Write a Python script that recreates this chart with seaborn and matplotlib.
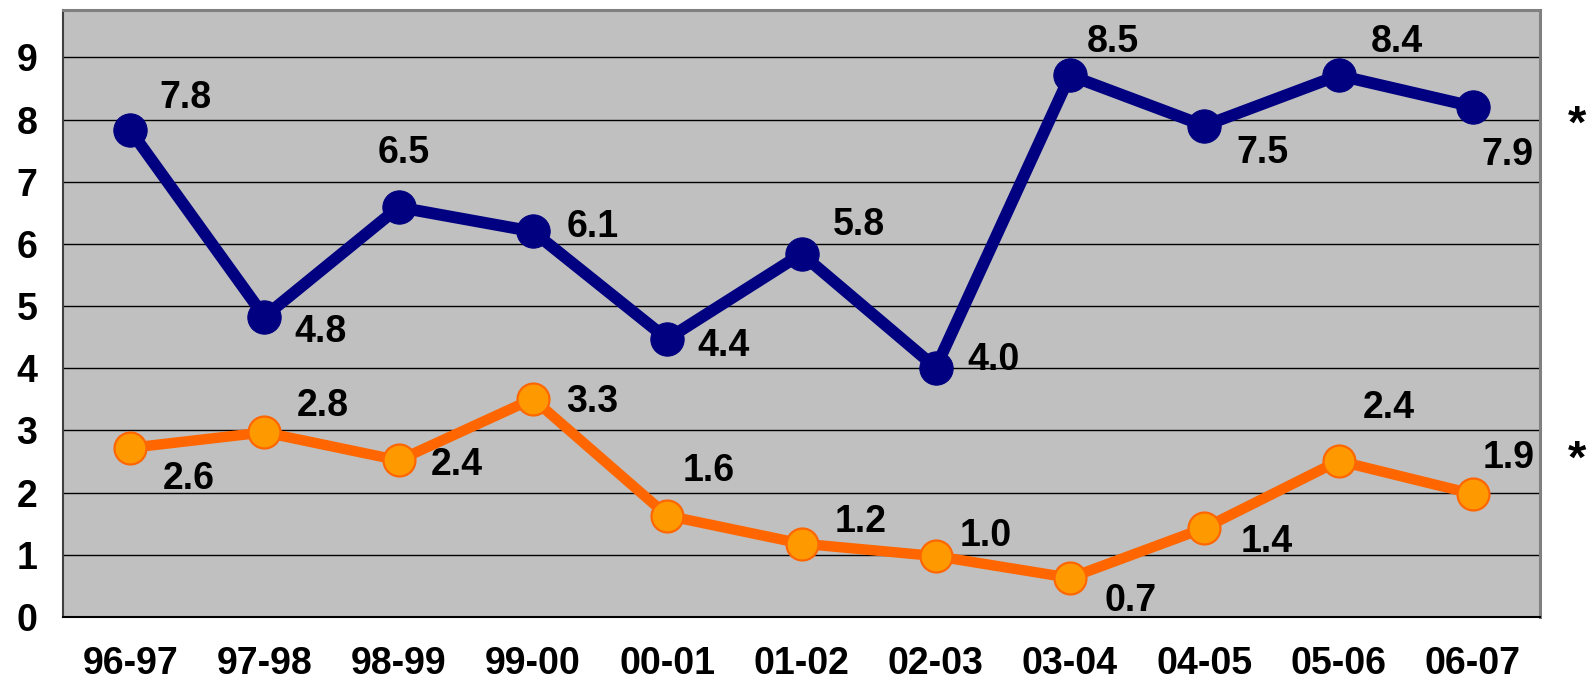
import matplotlib
matplotlib.use("Agg")
import matplotlib.pyplot as plt
import numpy as np
import pandas as pd
import seaborn as sns

# Data
years = ['96-97', '97-98', '98-99', '99-00', '00-01', '01-02',
         '02-03', '03-04', '04-05', '05-06', '06-07']
blue_values = [7.83, 4.83, 6.59, 6.2, 4.47, 5.84, 4.01, 8.71, 7.9, 8.71, 8.21]
blue_labels = ['7.8', '4.8', '6.5', '6.1', '4.4', '5.8', '4.0', '8.5', '7.5', '8.4', '7.9']
orange_values = [2.72, 2.97, 2.52, 3.51, 1.63, 1.18, 0.98, 0.63, 1.43, 2.51, 1.98]
orange_labels = ['2.6', '2.8', '2.4', '3.3', '1.6', '1.2', '1.0', '0.7', '1.4', '2.4', '1.9']
y_ticks = [0, 1, 2, 3, 4, 5, 6, 7, 8, 9]

# label offsets in pixels (dx right, dy down) from marker to text centre
blue_offsets = [(55, -36), (56, 12), (5, -58), (60, -8), (56, 3), (57, -32),
                (58, -11), (43, -37), (58, 24), (58, -37), (35, 45)]
orange_offsets = [(59, 28), (58, -30), (58, 1), (59, 0), (41, -48), (59, -25),
                  (50, -24), (61, 20), (62, 10), (50, -56), (36, -39)]

sns.set_style("white")
plt.rcParams['font.family'] = ['Liberation Sans', 'DejaVu Sans']
plt.rcParams['font.weight'] = 'bold'
plt.rcParams['text.color'] = 'black'
plt.rcParams['xtick.color'] = 'black'
plt.rcParams['ytick.color'] = 'black'
plt.rcParams['xtick.labelcolor'] = 'black'
plt.rcParams['ytick.labelcolor'] = 'black'

fig = plt.figure(figsize=(15.93, 6.9), dpi=100)
ax = fig.add_axes([63 / 1593, (690 - 617) / 690, (1540 - 63) / 1593, (617 - 9.5) / 690])
ax.set_facecolor('#C0C0C0')

df = pd.DataFrame({'year': years, 'blue': blue_values, 'orange': orange_values})

sns.lineplot(data=df, x='year', y='blue', ax=ax, color='#000080', lw=8.5,
             marker='o', markersize=24, markerfacecolor='#000080',
             markeredgecolor='#000080', sort=False, zorder=3)
sns.lineplot(data=df, x='year', y='orange', ax=ax, color='#FF6600', lw=7.5,
             marker='o', markersize=23, markerfacecolor='#FF9900',
             markeredgecolor='#FF6600', markeredgewidth=1.6, sort=False, zorder=3)

x = np.arange(len(years))
for vals, labs, offs in [(blue_values, blue_labels, blue_offsets),
                         (orange_values, orange_labels, orange_offsets)]:
    for i, (v, lab, (dx, dy)) in enumerate(zip(vals, labs, offs)):
        ax.annotate(lab, (x[i], v), xytext=(dx, -(dy + 13.5)),
                    textcoords='offset pixels', ha='center', va='baseline',
                    fontsize=27, fontweight='bold', color='black', zorder=4)

ax.set_xlim(-0.5, len(years) - 0.5)
ax.set_ylim(0, 9.77)
ax.set_yticks(y_ticks)
ax.set_yticklabels([str(t) for t in y_ticks])
ax.yaxis.grid(True, color='black', lw=1.0)
ax.set_axisbelow(True)

# boundaries get tick marks, centres get the labels
ax.set_xticks(np.arange(len(years) + 1) - 0.5)
ax.set_xticklabels([])
ax.set_xticks(x, minor=True)
ax.set_xticklabels(years, minor=True)
ax.tick_params(axis='x', which='major', direction='out', length=8, width=1.2, color='black')
ax.tick_params(axis='x', which='minor', length=0, pad=21, labelsize=27, labelcolor='black')
ax.tick_params(axis='y', direction='out', length=8.5, width=1.2, color='black',
               pad=10, labelsize=27, labelcolor='black')
for lab in ax.get_xticklabels(minor=True) + ax.get_yticklabels():
    lab.set_fontweight('bold')

ax.set_xlabel('')
ax.set_ylabel('')
for side in ['top', 'right']:
    ax.spines[side].set_color('#808080')
    ax.spines[side].set_linewidth(2.2)
ax.spines['left'].set_color('#404040')
ax.spines['left'].set_linewidth(1.5)
ax.spines['bottom'].set_color('black')
ax.spines['bottom'].set_linewidth(1.5)

fig.text(1577 / 1593, 1 - 138 / 690, '*', ha='center', va='baseline', fontsize=34, fontweight='bold')
fig.text(1577 / 1593, 1 - 473 / 690, '*', ha='center', va='baseline', fontsize=34, fontweight='bold')

fig.savefig('out.png', dpi=100)
